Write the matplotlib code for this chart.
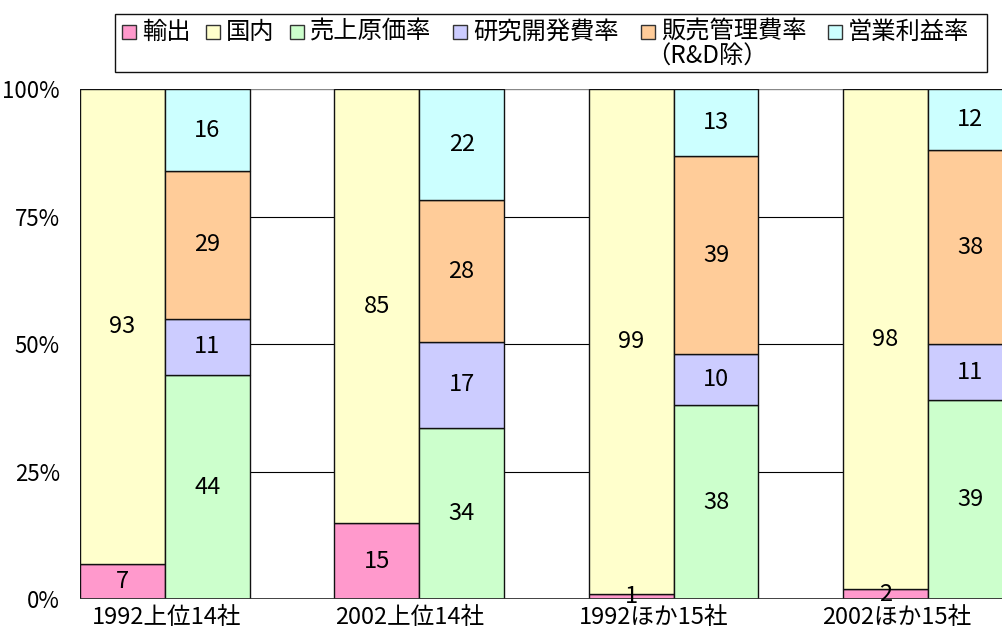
import matplotlib
matplotlib.use("Agg")
import matplotlib.pyplot as plt
from matplotlib.patches import Rectangle
import numpy as np

plt.rcParams['font.family'] = ['Noto Sans CJK JP', 'DejaVu Sans']

categories = ['1992上位14社', '2002上位14社', '1992ほか15社', '2002ほか15社']
export = [7, 15, 1, 2]
domestic = [93, 85, 99, 98]
cost = [44, 34, 38, 39]
rnd = [11, 17, 10, 11]
sga = [29, 28, 39, 38]
profit = [16, 22, 13, 12]

legend_labels = ['輸出', '国内', '売上原価率', '研究開発費率', '販売管理費率', '営業利益率']
colors = ['#FF99CC', '#FFFFCC', '#CCFFCC', '#CCCCFF', '#FFCC99', '#CCFFFF']

W, H = 1002, 635
fig = plt.figure(figsize=(W / 100, H / 100), dpi=100)

# axes geometry (pixels)
x0, bar_px = 80, 84.8
y_top, y_bot = 89.3, 599.3
xmax = 12
ax = fig.add_axes([x0 / W, (H - y_bot) / H, xmax * bar_px / W, (y_bot - y_top) / H])
ax.set_xlim(0, xmax)
ax.set_ylim(0, 100)
for s in ax.spines.values():
    s.set_visible(False)

# gridlines
for g in [25, 50, 75]:
    ax.axhline(g, color='#000000', lw=0.8, zorder=0)
ax.axhline(100, color='#888888', lw=1.0, zorder=0)
ax.axhline(0, color='#333333', lw=1.3, zorder=3)

left_series = [export, domestic]
right_series = [cost, rnd, sga, profit]

n = len(categories)
group_pos = np.arange(n) * 3
fs = 17
fs_lab = 17

def stack(series_list, xpos, color_list):
    tot = np.sum(np.array(series_list, dtype=float), axis=0)
    bottom = np.zeros(n)
    for vals, c in zip(series_list, color_list):
        v = np.array(vals, dtype=float)
        h = v / tot * 100
        ax.bar(xpos, h, width=1.0, bottom=bottom, align='edge', color=c,
               edgecolor='#111111', linewidth=1.0, zorder=2)
        for xi, b, hh, raw in zip(xpos, bottom, h, vals):
            ax.text(xi + 0.5, b + hh / 2, f'{raw}', ha='center', va='center',
                    fontsize=fs, color='black', zorder=4)
        bottom = bottom + h

stack(left_series, group_pos, colors[:2])
stack(right_series, group_pos + 1, colors[2:])

ax.set_yticks([0, 25, 50, 75, 100])
ax.set_yticklabels(['0%', '25%', '50%', '75%', '100%'], fontsize=16)
# category labels sit on a slightly narrower pitch than the bar groups
tick_pos = 1.02 + np.arange(n) * 2.87
ax.set_xticks(tick_pos)
ax.set_xticklabels(categories, fontsize=fs_lab)
ax.tick_params(axis='y', length=0, pad=14.5)
ax.tick_params(axis='x', length=0, pad=5)

# legend (manual, figure pixel overlay)
ov = fig.add_axes([0, 0, 1, 1], zorder=10)
ov.set_xlim(0, W)
ov.set_ylim(H, 0)
ov.axis('off')
ov.add_patch(Rectangle((115.5, 14), 987 - 115.5, 72 - 14, fill=False,
                       edgecolor='#111111', lw=1.0))
sq_x = [122, 206, 290, 453, 641, 828]
for sx, lab, c in zip(sq_x, legend_labels, colors):
    ov.add_patch(Rectangle((sx, 25), 14, 14, facecolor=c, edgecolor='#333333', lw=1.0))
    ov.text(sx + 20, 32, lab, ha='left', va='center', fontsize=17.5)
ov.text(707, 57, '（R&D除）', ha='center', va='center', fontsize=17.5)

fig.savefig('out.png', dpi=100)
